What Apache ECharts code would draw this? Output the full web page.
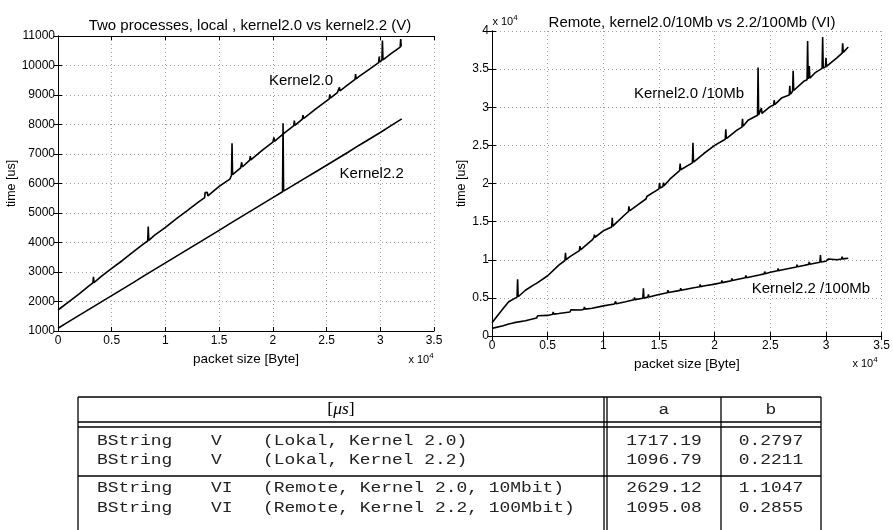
<!DOCTYPE html>
<html><head><meta charset="utf-8">
<script src="https://cdn.jsdelivr.net/npm/echarts@6/dist/echarts.min.js"></script>
<style>html,body{margin:0;padding:0;background:#fff}#c{width:893px;height:530px}</style>
</head><body><div id="c"></div>
<script>
// ---------- data ----------
const leftTitle = 'Two processes, local , kernel2.0 vs kernel2.2 (V)';
const rightTitle = 'Remote, kernel2.0/10Mb vs 2.2/100Mb (VI)';
const xName = 'packet size [Byte]';
const yName = 'time [us]';

const k20Local = [[0,1712],[1000,1990],[2000,2270],[3000,2560],[3250,2630],[3300,2840],[3350,2640],[4000,2840],[5000,3120],[6000,3390],[7000,3680],[8000,3960],[8350,4050],[8400,4540],[8450,4070],[9000,4250],[9650,4420],[9700,4480],[9750,4440],[10000,4510],[11000,4800],[12000,5070],[13000,5350],[13650,5520],[13700,5690],[13900,5700],[13950,5580],[14000,5640],[15000,5900],[16000,6150],[16150,6280],[16200,7360],[16250,6300],[17000,6530],[17050,6540],[17100,6720],[17150,6560],[17850,6790],[17900,6930],[17950,6800],[18000,6830],[19000,7120],[20000,7400],[20050,7420],[20100,7560],[20150,7430],[21000,7690],[21950,7960],[22000,8130],[22050,7970],[22750,8180],[22800,8320],[22850,8200],[23000,8250],[24000,8530],[25000,8800],[25250,8870],[25300,9020],[25350,8890],[26000,9080],[26150,9120],[26200,9260],[26250,9140],[27000,9350],[27650,9530],[27700,9710],[27750,9550],[28000,9620],[29000,9880],[29850,10100],[29900,10300],[29950,10110],[30000,10140],[30150,10180],[30200,10850],[30250,10190],[31000,10400],[31850,10620],[31900,10900],[31950,10640],[32000,10650]];
const k22Local = [[0,1095],[1000,1320],[2000,1540],[3000,1760],[4000,1980],[5000,2200],[6000,2420],[7000,2640],[8000,2870],[9000,3090],[10000,3310],[11000,3530],[12000,3750],[13000,3970],[14000,4190],[15000,4410],[16000,4640],[17000,4860],[18000,5080],[19000,5300],[20000,5520],[20900,5720],[20950,8040],[21000,5740],[22000,5960],[23000,6180],[24000,6400],[25000,6620],[26000,6840],[27000,7060],[28000,7290],[29000,7510],[30000,7730],[31000,7960],[32000,8190]];
const k20Remote = [[0,1750],[1000,3600],[1500,4500],[2000,4900],[2250,5100],[2300,7430],[2350,5150],[3000,6000],[3750,6700],[3800,6950],[3850,6750],[4000,6900],[5000,7900],[6000,9300],[6550,9900],[6600,10900],[6650,10000],[7000,10400],[7850,11200],[7900,11800],[7950,11300],[8000,11350],[9000,12600],[9150,12900],[9200,13300],[9250,12950],[10000,13800],[10750,14300],[10800,15500],[10850,14400],[11000,14600],[12000,16000],[12250,16300],[12300,17000],[12350,16400],[13000,17100],[13850,18000],[13900,18300],[13950,18100],[14000,18200],[15000,19300],[15050,20100],[15100,19400],[15350,19600],[15400,20100],[15450,19700],[16000,20600],[16850,21700],[16900,22600],[16950,21800],[17000,21900],[18000,22700],[18050,25350],[18100,22800],[19000,23900],[20000,25000],[20950,25800],[21000,27100],[21050,25900],[22000,27000],[22450,27400],[22500,28500],[22550,27500],[23000,28300],[23850,28950],[23900,35200],[23950,29000],[24000,29000],[24200,29900],[24250,29200],[25000,30100],[25300,30300],[25350,30950],[25400,30350],[26000,31200],[26700,31600],[26750,32800],[26800,31700],[27000,32100],[27050,34800],[27100,32200],[28000,33400],[28300,33600],[28350,38700],[28400,33700],[28500,35400],[28550,33800],[29000,34500],[29650,35100],[29700,39200],[29750,35150],[29950,35300],[30000,36500],[30050,35350],[31000,36500],[31450,37100],[31500,38400],[31550,37200],[32000,37900]];
const k22Remote = [[0,1000],[1000,1350],[1500,1570],[2000,1750],[3000,2000],[4000,2350],[4100,2650],[4150,2400],[5000,2700],[5450,2850],[5500,3150],[5550,2870],[6000,2950],[7000,3150],[7100,3450],[7150,3200],[8000,3400],[8250,3500],[8300,3800],[8350,3520],[9000,3650],[10000,3950],[11000,4200],[11100,4550],[11150,4230],[12000,4500],[12750,4750],[12800,5050],[12850,4770],[13000,4800],[13550,4950],[13600,6250],[13650,4970],[14000,5100],[14050,5450],[14100,5120],[15000,5450],[15750,5680],[15800,6000],[15850,5700],[16000,5750],[16900,5980],[16950,6280],[17000,6000],[18000,6300],[18650,6460],[18700,6750],[18750,6480],[19000,6550],[20000,6800],[20600,6980],[20650,7300],[20700,7000],[21000,7100],[21500,7250],[21550,7550],[21600,7270],[22000,7400],[22750,7630],[22800,7950],[22850,7650],[23000,7700],[24000,8000],[24450,8150],[24500,8450],[24550,8170],[25000,8350],[25650,8550],[25700,8850],[25750,8570],[26000,8650],[27000,8950],[27350,9050],[27400,9350],[27450,9070],[28000,9250],[28450,9390],[28500,9700],[28550,9400],[29000,9550],[29450,9680],[29500,10620],[29550,9700],[30000,9800],[30150,9850],[30200,10100],[30250,9860],[31000,10000],[31400,10100],[31450,10400],[31500,10110],[32000,10200]];

const curveLabels = [
  {name:'Kernel2.0', coord:[22620,9475]},
  {name:'Kernel2.2', coord:[29200,6320]},
  {name:'Kernel2.0 /10Mb', coord:[17690,31780]},
  {name:'Kernel2.2 /100Mb', coord:[28645,6120]}
];

const tableHeader = ['[μs]', 'a', 'b'];
const rowNames = ['BString','BString','BString','BString'];
const rowVersions = ['V','V','VI','VI'];
const rowDescs = ['(Lokal, Kernel 2.0)','(Lokal, Kernel 2.2)','(Remote, Kernel 2.0, 10Mbit)','(Remote, Kernel 2.2, 100Mbit)'];
const colA = ['1717.19','1096.79','2629.12','1095.08'];
const colB = ['0.2797','0.2211','1.1047','0.2855'];

// ---------- chart ----------
const SANS = 'Liberation Sans, Arial, sans-serif';
const fmt = v => String(+(v/10000).toFixed(2));
const grid0 = {left:58, top:36, width:376, height:295};
const grid1 = {left:492, top:31, width:391, height:305};

function mainX(gi, nameGap){
  return {type:'value', gridIndex:gi, min:0, max:35000, interval:5000,
    name:xName, nameLocation:'middle', nameGap:nameGap,
    nameTextStyle:{color:'#000', fontFamily:SANS, fontSize:13.5},
    axisLine:{show:true, lineStyle:{color:'#000', width:1}},
    axisTick:{show:true, inside:true, length:4, lineStyle:{color:'#000'}},
    axisLabel:{color:'#000', fontFamily:SANS, fontSize:12, margin:4, formatter:fmt, showMinLabel:true, showMaxLabel:true},
    splitLine:{show:true, lineStyle:{color:'#a0a0a0', type:[1,3], width:1}}};
}
function dupX(gi){
  return {type:'value', gridIndex:gi, position:'top', min:0, max:35000, interval:5000,
    axisLine:{show:true, lineStyle:{color:'#000'}}, axisTick:{show:true, inside:true, length:4, lineStyle:{color:'#000'}},
    axisLabel:{show:false}, splitLine:{show:false}};
}
function mainY(gi, min, max, interval, f, nameGap){
  return {type:'value', gridIndex:gi, min:min, max:max, interval:interval,
    name:yName, nameLocation:'middle', nameGap:nameGap,
    nameTextStyle:{color:'#000', fontFamily:SANS, fontSize:12.5},
    axisLine:{show:true, lineStyle:{color:'#000', width:1}},
    axisTick:{show:true, inside:true, length:4, lineStyle:{color:'#000'}},
    axisLabel:{color:'#000', fontFamily:SANS, fontSize:12, margin:3, formatter:f, showMinLabel:true, showMaxLabel:true},
    splitLine:{show:true, lineStyle:{color:'#a0a0a0', type:[1,3], width:1}}};
}
function dupY(gi, min, max, interval){
  return {type:'value', gridIndex:gi, position:'right', min:min, max:max, interval:interval,
    axisLine:{show:true, lineStyle:{color:'#000'}}, axisTick:{show:true, inside:true, length:4, lineStyle:{color:'#000'}},
    axisLabel:{show:false}, splitLine:{show:false}};
}
function lineSeries(data, xi, yi, labels){
  return {type:'line', data:data, xAxisIndex:xi, yAxisIndex:yi, showSymbol:false, symbol:'none',
    animation:false, lineStyle:{color:'#000', width:1.6}, silent:true,
    markPoint: labels ? {symbol:'circle', symbolSize:1, itemStyle:{color:'rgba(0,0,0,0)'},
      label:{show:true, position:'inside', color:'#000', fontFamily:SANS, fontSize:15, formatter:p=>p.name},
      data:labels.map(l=>({name:l.name, coord:l.coord}))} : undefined};
}

// table graphic
const TL = 78, TR = 821, C1 = 604, C1b = 607, C2 = 721, TT = 397, TB = 532;
const rowY = [441, 460, 488, 508];
const MONO = '14px Liberation Mono, DejaVu Sans Mono, monospace';
function hline(y, x1, x2, w){ return {type:'line', shape:{x1:x1, y1:y, x2:x2, y2:y}, style:{stroke:'#000', lineWidth:w||1.3}, silent:true}; }
function vline(x, y1, y2, w){ return {type:'line', shape:{x1:x, y1:y1, x2:x, y2:y2}, style:{stroke:'#000', lineWidth:w||1.3}, silent:true}; }
function mtext(t, x, y, align){ return {type:'text', x:x, y:y, scaleX:1.28, silent:true,
  style:{text:t, font:MONO, fill:'#222', align:align||'left', verticalAlign:'middle'}}; }

const g = [];
g.push(hline(TT, TL, TR), hline(422, TL, TR), hline(427, TL, TR), hline(476, TL, TR));
g.push(vline(TL, TT, TB), vline(C1, TT, TB), vline(C1b, TT, TB), vline(C2, TT, TB), vline(TR, TT, TB));
g.push({type:'text', x:(TL+C1)/2, y:410, silent:true, scaleX:1.1,
  style:{text:'{a|[}{b|μs}{a|]}', align:'center', verticalAlign:'middle', fill:'#000',
    rich:{a:{font:'16px Liberation Serif, serif', fill:'#000'}, b:{font:'italic 16px Liberation Serif, serif', fill:'#000'}}}});
g.push(mtext(tableHeader[1], (C1b+C2)/2, 410, 'center'), mtext(tableHeader[2], (C2+TR)/2, 410, 'center'));
for (let i=0;i<rowNames.length;i++){
  g.push(mtext(rowNames[i], 97, rowY[i]));
  g.push(mtext(rowVersions[i], 211, rowY[i]));
  g.push(mtext(rowDescs[i], 263, rowY[i]));
  g.push(mtext(colA[i], (C1b+C2)/2, rowY[i], 'center'));
  g.push(mtext(colB[i], (C2+TR)/2, rowY[i], 'center'));
}
function expo(x, y){ return {type:'text', x:x, y:y, silent:true,
  style:{text:'{a|x 10}{s|4}', align:'center', verticalAlign:'middle',
    rich:{a:{fontFamily:SANS, fontSize:11, fill:'#000'}, s:{fontFamily:SANS, fontSize:8, fill:'#000', verticalAlign:'top', padding:[0,0,8,0]}}}}; }
g.push(expo(421, 360), expo(865, 364), expo(505, 22));

const chart = echarts.init(document.getElementById('c'), null, {renderer:'canvas'});
chart.setOption({
  animation:false,
  backgroundColor:'#fff',
  title:[
    {text:leftTitle, left:245, top:13, textAlign:'center', textStyle:{color:'#000', fontFamily:SANS, fontSize:15, fontWeight:'normal'}},
    {text:rightTitle, left:687, top:10, textAlign:'center', textStyle:{color:'#000', fontFamily:SANS, fontSize:15, fontWeight:'normal'}}
  ],
  grid:[grid0, grid1],
  xAxis:[mainX(0,17), dupX(0), mainX(1,19), dupX(1)],
  yAxis:[mainY(0,1000,11000,1000,v=>String(v),35), dupY(0,1000,11000,1000),
         mainY(1,0,40000,5000,fmt,18), dupY(1,0,40000,5000)],
  series:[
    lineSeries(k20Local,0,0,[curveLabels[0]]),
    lineSeries(k22Local,0,0,[curveLabels[1]]),
    lineSeries(k20Remote,2,2,[curveLabels[2]]),
    lineSeries(k22Remote,2,2,[curveLabels[3]])
  ],
  graphic:g
});
</script></body></html>
